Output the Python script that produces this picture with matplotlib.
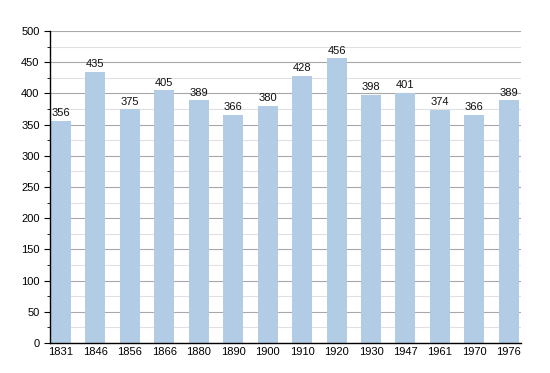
import matplotlib
matplotlib.use("Agg")
import matplotlib.pyplot as plt
from matplotlib.ticker import MultipleLocator

plt.rcParams['font.family'] = ['Liberation Sans', 'DejaVu Sans']

years = ["1831", "1846", "1856", "1866", "1880", "1890", "1900", "1910", "1920", "1930", "1947", "1961", "1970", "1976"]
population = [356, 435, 375, 405, 389, 366, 380, 428, 456, 398, 401, 374, 366, 389]

fig = plt.figure(figsize=(5.5, 3.73), dpi=100)
ax = fig.add_axes([0.0909, 0.0804, 0.856, 0.8365])

x = list(range(len(years)))
ax.bar(x, population, width=0.58, color="#b3cce6", zorder=2)
for xi, v in zip(x, population):
    ax.text(xi, v + 4, str(v), ha="center", va="bottom", fontsize=8, color="#111111", zorder=3)

ax.set_xlim(-0.32, 13.35)
ax.set_ylim(0, 500)
ax.yaxis.set_major_locator(MultipleLocator(50))
ax.yaxis.set_minor_locator(MultipleLocator(25))
ax.grid(axis="y", which="major", color="#a8a8a8", linewidth=0.8, zorder=0)
ax.grid(axis="y", which="minor", color="#e0e0e0", linewidth=0.8, zorder=0)
ax.set_xticks(x)
ax.set_xticklabels(years)
ax.tick_params(axis="x", length=0, labelsize=8, pad=3)
ax.tick_params(axis="y", which="major", length=4, labelsize=8)
ax.tick_params(axis="y", which="minor", length=2)
for s in ["top", "right"]:
    ax.spines[s].set_visible(False)
ax.spines["left"].set_linewidth(1)
ax.spines["bottom"].set_linewidth(1)

fig.savefig("out.png", dpi=100)
